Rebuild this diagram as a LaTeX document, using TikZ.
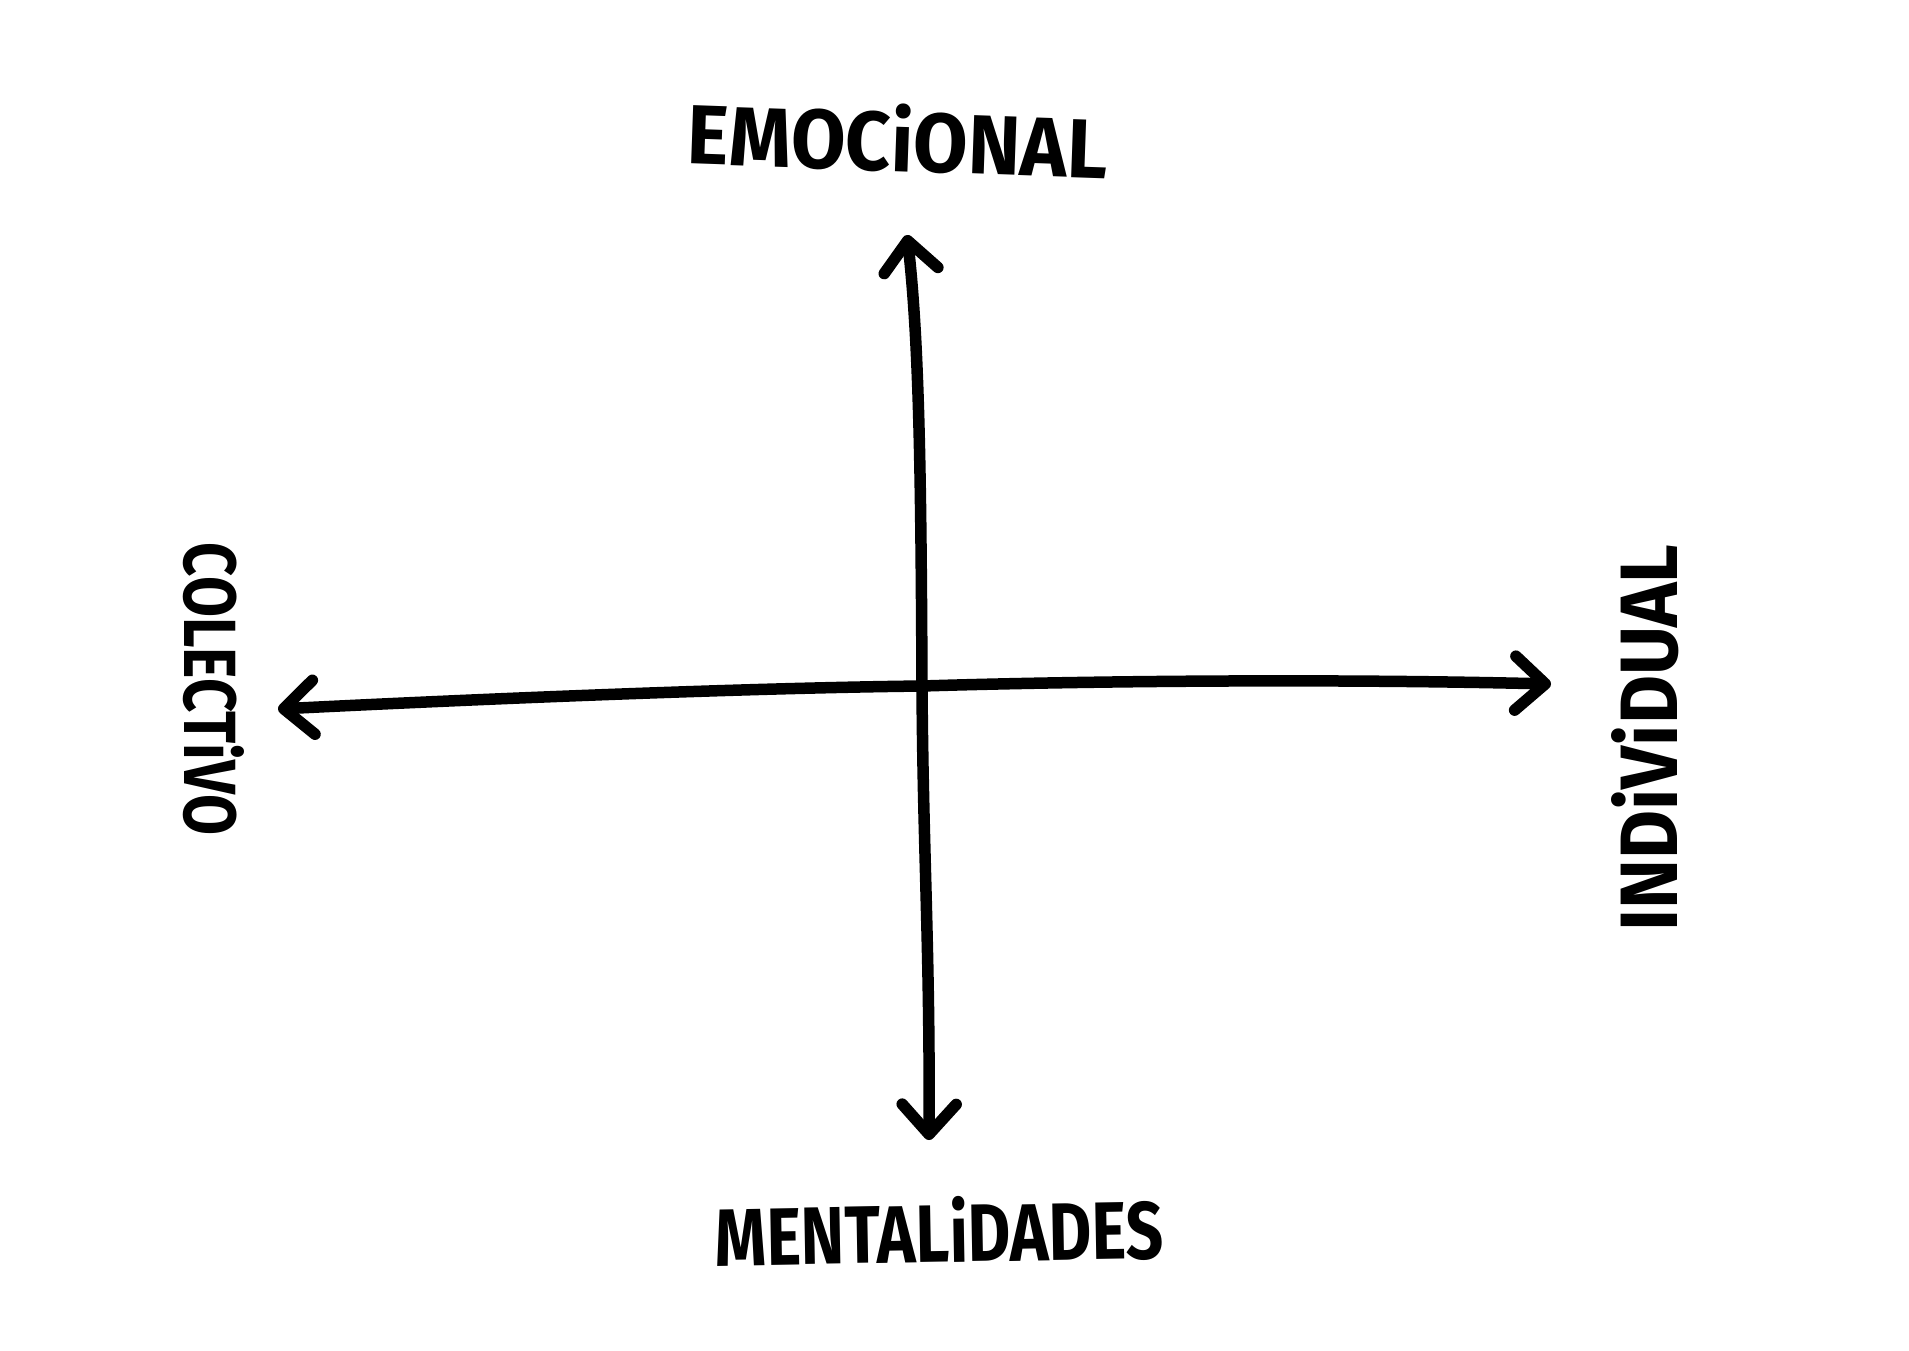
\documentclass[tikz,border=0pt]{standalone}
\usepackage{graphicx}
\usepackage{fontspec}
\setmainfont{Fira Sans}
\usetikzlibrary{arrows.meta}
\tikzset{
  axis/.style={line width=11.5pt, line cap=round, line join=round,
    {Straight Barb[round,length=30pt,width=54pt]}-{Straight Barb[round,length=30pt,width=54pt]}},
  lbl/.style={inner sep=0pt, font=\bfseries}
}
\begin{document}
\begin{tikzpicture}[x=1pt,y=-1pt]
\useasboundingbox[fill=white] (0,0) rectangle (1909,1350);
% axis end points
\coordinate (top) at (907,235);
\coordinate (bot) at (929,1140);
\coordinate (lft) at (278,709);
\coordinate (rgt) at (1551,684);
\coordinate (ctr) at (922,686);
% axes
\draw[axis] (bot) .. controls (930,950) and (923,850) .. (ctr)
  .. controls (921,470) and (919,340) .. (top);
\draw[axis] (lft) .. controls (500,698) and (750,688) .. (ctr)
  .. controls (1050,682) and (1300,678) .. (rgt);
% labels
\node[lbl, rotate=-2] (emo) at (898,138) {\resizebox{420pt}{68pt}{EMOCiONAL}};
\node[lbl, rotate=1] (men) at (939,1230) {\resizebox{448pt}{66pt}{MENTALiDADES}};
\node[lbl, rotate=-90] (col) at (214,689) {\resizebox{292pt}{60pt}{COLECTiVO}};
\node[lbl, rotate=90] (ind) at (1645,738) {\resizebox{387pt}{66pt}{INDiViDUAL}};
\end{tikzpicture}
\end{document}
